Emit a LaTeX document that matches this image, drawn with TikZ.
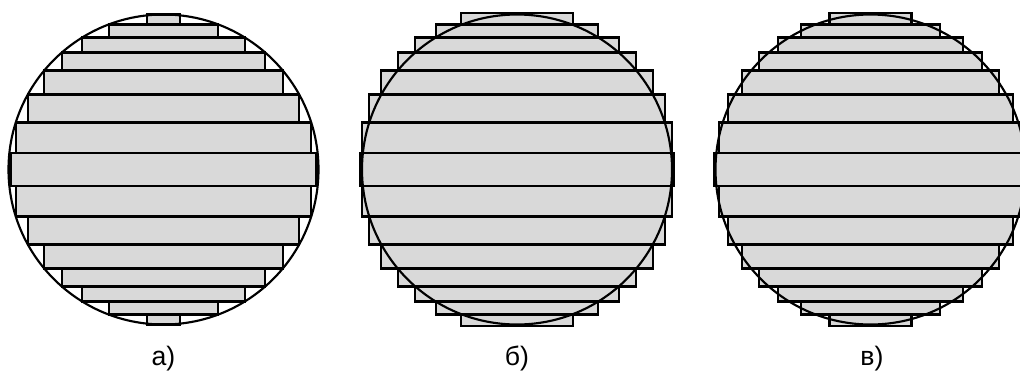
\documentclass[tikz,border=0pt]{standalone}
\usepackage{fontspec}
\setmainfont{Liberation Sans}
\usepackage{xcolor}
\definecolor{stripgray}{RGB}{217,217,217}
\usepackage{tikz}

% strip lists: inner edge / outer edge / half width (px from the centre)
\def\stripsa{16.5/47/147.7, 47/75/135.6, 75/99/119.3, 99/117/101.7,
             117/132/81.2, 132/145/54.8, 145/155/16.5}
\def\stripsb{16.5/47/154.6, 47/75/147.7, 75/99/135.6, 99/117/119.3,
             117/132/101.7, 132/145/81.2, 145/156.5/56}
\def\stripsv{16.5/47/151.7, 47/75/142.5, 75/99/128.3, 99/117/111.2,
             117/132/92.3, 132/145/69.6, 145/156.5/41}

\begin{document}
\begin{tikzpicture}[x=0.75pt, y=-0.75pt,
  stripfill/.style={fill=stripgray},
  stripline/.style={draw=black, line width=1.6pt},
  rim/.style={draw=black, line width=1.6pt},
  lbl/.style={anchor=base, font=\fontsize{20}{22}\selectfont}
]
\useasboundingbox (0,0) rectangle (1020,372);
\clip (0,0) rectangle (1020,372);

% Panel a: strips inside the circle
\begin{scope}[shift={(163.5,169.5)}]
  \fill[stripfill] (-153,-16.5) rectangle (153,16.5);
  \foreach \yi/\yo/\w in \stripsa
  {
    \fill[stripfill] (-\w,\yi) rectangle (\w,\yo);
    \fill[stripfill] (-\w,-\yi) rectangle (\w,-\yo);
  }
  \draw[stripline] (-153,-16.5) rectangle (153,16.5);
  \foreach \yi/\yo/\w in \stripsa
  {
    \draw[stripline] (-\w,\yi) rectangle (\w,\yo);
    \draw[stripline] (-\w,-\yi) rectangle (\w,-\yo);
  }
  \draw[rim] (0,0) circle[radius=155];
\end{scope}

% Panel b: strips outside the circle
\begin{scope}[shift={(517,169.5)}]
  \fill[stripfill] (-156.5,-16.5) rectangle (156.5,16.5);
  \foreach \yi/\yo/\w in \stripsb
  {
    \fill[stripfill] (-\w,\yi) rectangle (\w,\yo);
    \fill[stripfill] (-\w,-\yi) rectangle (\w,-\yo);
  }
  \draw[stripline] (-156.5,-16.5) rectangle (156.5,16.5);
  \foreach \yi/\yo/\w in \stripsb
  {
    \draw[stripline] (-\w,\yi) rectangle (\w,\yo);
    \draw[stripline] (-\w,-\yi) rectangle (\w,-\yo);
  }
  \draw[rim] (0,0) circle[radius=155];
\end{scope}

% Panel v: strips by the midpoint
\begin{scope}[shift={(870.5,169.5)}]
  \fill[stripfill] (-156.5,-16.5) rectangle (156.5,16.5);
  \foreach \yi/\yo/\w in \stripsv
  {
    \fill[stripfill] (-\w,\yi) rectangle (\w,\yo);
    \fill[stripfill] (-\w,-\yi) rectangle (\w,-\yo);
  }
  \draw[stripline] (-156.5,-16.5) rectangle (156.5,16.5);
  \foreach \yi/\yo/\w in \stripsv
  {
    \draw[stripline] (-\w,\yi) rectangle (\w,\yo);
    \draw[stripline] (-\w,-\yi) rectangle (\w,-\yo);
  }
  \draw[rim] (0,0) circle[radius=155];
\end{scope}

% Labels
\node[lbl] (labela) at (163.5,365) {а)};
\node[lbl] (labelb) at (517,365) {б)};
\node[lbl] (labelv) at (872,365) {в)};
\end{tikzpicture}
\end{document}
